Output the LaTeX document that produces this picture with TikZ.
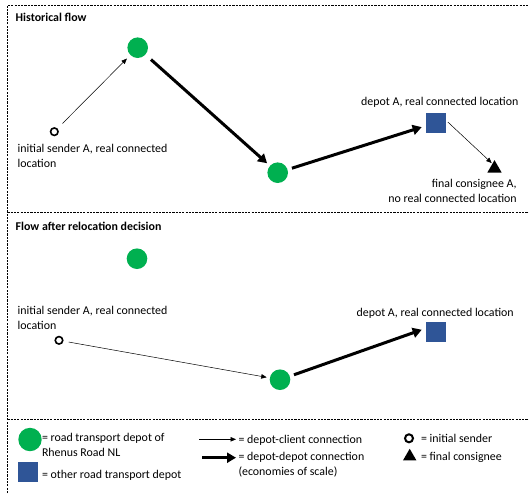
\documentclass[tikz,border=0pt]{standalone}
\usepackage{fontspec}
\setmainfont{Carlito}
\usetikzlibrary{arrows.meta,shapes.geometric}
\definecolor{rgreen}{HTML}{00B050}
\definecolor{rblue}{HTML}{2F5597}
\begin{document}
\begin{tikzpicture}[x=1pt,y=-1pt,
  txt/.style={inner sep=0pt, outer sep=0pt, font=\fontsize{11.9}{14.8}\selectfont},
  ttl/.style={txt, font=\fontsize{11.9}{14.8}\selectfont\bfseries},
  depot/.style={circle, fill=rgreen, minimum size=20.6pt, inner sep=0pt},
  other/.style={rectangle, fill=rblue, minimum size=20pt, inner sep=0pt},
  sender/.style={circle, draw=black, line width=1.6pt, minimum size=7.5pt, inner sep=0pt},
  consignee/.style={regular polygon, regular polygon sides=3, fill=black, minimum size=16.5pt, inner sep=0pt},
  frame/.style={line width=0.9pt, dash pattern=on 2.2pt off 1.1pt},
  thinarrow/.style={line width=0.5pt, -{Triangle[length=5.5pt,width=4.5pt]}},
  thickarrow/.style={line width=3pt, -{Triangle[length=9pt,width=10pt]}}]
\useasboundingbox (0,0) rectangle (529,493);
% frame
\coordinate (ftl) at (7.3,5.3);
\coordinate (ftr) at (529,5.3);
\coordinate (fbl) at (7.3,493);
\coordinate (d1l) at (7.3,212.5);
\coordinate (d1r) at (529,212.5);
\coordinate (d2l) at (7.3,419);
\coordinate (d2r) at (529,419);
\draw[frame] (fbl) -- (ftl) -- (ftr);
\draw[frame] (d1l) -- (d1r);
\draw[frame] (d2l) -- (d2r);

% section 1
\node[ttl, anchor=base west] (t1) at (15.7,21.3) {Historical flow};
\node[depot] (g1) at (137.7,47.7) {};
\node[sender] (s1) at (54.3,131.7) {};
\node[txt, anchor=base west, align=left] (ls1) at (17.7,167.3) {initial sender A, real connected\\location};
\node[depot] (g2) at (277.7,172.7) {};
\node[other] (q1) at (435.7,122.7) {};
\node[txt, anchor=base east] (lq1) at (518.3,105) {depot A, real connected location};
\node[consignee] (c1) at (494.5,168.4) {};
\node[txt, anchor=base east, align=right] (lc1) at (516.7,202.3) {final consignee A,\\no real connected location};
\draw[thinarrow, shorten <=7pt, shorten >=4.8pt] (s1) -- (g1);
\draw[thickarrow, shorten <=7.3pt, shorten >=3.7pt] (g1) -- (g2);
\draw[thickarrow, shorten <=4.4pt, shorten >=4pt] (g2) -- (q1);
\draw[thinarrow] ([xshift=2pt,yshift=-9.6pt]q1.north east) -- ([xshift=-2.8pt,yshift=-3.3pt]c1.north);

% section 2
\node[ttl, anchor=base west] (t2) at (15.7,230.7) {Flow after relocation decision};
\node[depot] (g3) at (137,258.7) {};
\node[txt, anchor=base west, align=left] (ls2) at (17.7,329) {initial sender A, real connected\\location};
\node[sender] (s2) at (59,340.3) {};
\node[depot] (g4) at (280,379.7) {};
\node[other] (q2) at (436,331.8) {};
\node[txt, anchor=base east] (lq2) at (513.7,316.3) {depot A, real connected location};
\draw[thinarrow, shorten <=5.3pt, shorten >=3pt] (s2) -- (g4);
\draw[thickarrow, shorten <=4.3pt, shorten >=4.3pt] (g4) -- ([yshift=3.5pt]q2.west);

% legend
\node[depot, minimum size=23.4pt] (lg) at (30,439.5) {};
\node[txt, anchor=base west, align=left] (llg) at (42,456.3) {= road transport depot of\\Rhenus Road NL};
\node[other, minimum size=19.4pt] (lb) at (28,472) {};
\node[txt, anchor=base west] (llb) at (42,478) {= other road transport depot};
\coordinate (a1s) at (199,439.3);
\coordinate (a1e) at (236,439.3);
\draw[thinarrow] (a1s) -- (a1e);
\node[txt, anchor=base west] (la1) at (238.5,443.3) {= depot-client connection};
\coordinate (a2s) at (202,457.7);
\coordinate (a2e) at (236,457.7);
\draw[thickarrow] (a2s) -- (a2e);
\node[txt, anchor=base west, align=left] (la2) at (238.5,475.7) {= depot-depot connection\\(economies of scale)};
\node[sender, minimum size=8pt, line width=2pt] (lsn) at (409,438.3) {};
\node[txt, anchor=base west] (llsn) at (421,442.3) {= initial sender};
\node[consignee, minimum size=15.5pt] (lcn) at (409.7,456.5) {};
\node[txt, anchor=base west] (llcn) at (421,460.3) {= final consignee};
\end{tikzpicture}
\end{document}
